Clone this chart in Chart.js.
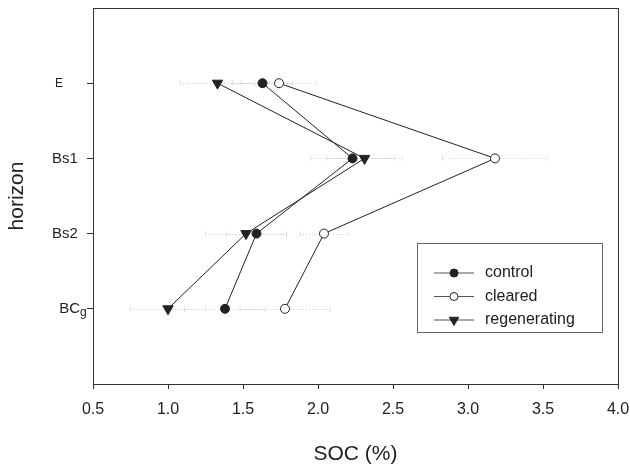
<!DOCTYPE html>
<html>
<head>
<meta charset="utf-8">
<script src="https://cdn.jsdelivr.net/npm/chart.js@4.4.0/dist/chart.umd.min.js"></script>
<style>
  html, body { margin: 0; padding: 0; background: #fff; }
  #wrap { width: 630px; height: 468px; position: relative; }
</style>
</head>
<body>
<div id="wrap"><canvas id="chart"></canvas></div>
<script>
// horizons, top to bottom
const horizons = ["E", "Bs1", "Bs2", "BCg"];
// SOC (%) per horizon
const control      = [1.63, 2.23, 1.59, 1.38];
const cleared      = [1.74, 3.18, 2.04, 1.78];
const regenerating = [1.33, 2.31, 1.52, 1.00];
// horizontal error bars (+/-)
const controlErr      = [0.20, 0.28, 0.20, 0.27];
const clearedErr      = [0.25, 0.35, 0.16, 0.30];
const regeneratingErr = [0.25, 0.25, 0.27, 0.25];
const xTicks = [0.5, 1.0, 1.5, 2.0, 2.5, 3.0, 3.5, 4.0];

const FONT = "'Liberation Sans', Arial, sans-serif";
const INK = "#222";
const pts = vals => vals.map((v, i) => ({ x: v, y: i + 1 }));

const series = [
  { label: "control", vals: control, err: controlErr, style: "circle", r: 4.5, bg: INK, rot: 0 },
  { label: "cleared", vals: cleared, err: clearedErr, style: "circle", r: 4.5, bg: "#fff", rot: 0 },
  { label: "regenerating", vals: regenerating, err: regeneratingErr, style: "triangle", r: 6, bg: INK, rot: 180 }
];

// faint dotted horizontal error bars behind the markers
const errorBars = {
  id: "errorBars",
  beforeDatasetsDraw(c) {
    const { ctx, scales: { x, y } } = c;
    ctx.save();
    ctx.strokeStyle = "#cfcfcf"; ctx.lineWidth = 1;
    series.forEach(s => s.vals.forEach((v, i) => {
      const py = Math.round(y.getPixelForValue(i + 1)) + 0.5;
      const x0 = x.getPixelForValue(v - s.err[i]), x1 = x.getPixelForValue(v + s.err[i]);
      ctx.setLineDash([1, 2]);
      ctx.beginPath(); ctx.moveTo(x0, py); ctx.lineTo(x1, py); ctx.stroke();
      ctx.setLineDash([1, 1]);
      ctx.beginPath();
      ctx.moveTo(x0, py - 3); ctx.lineTo(x0, py + 3);
      ctx.moveTo(x1, py - 3); ctx.lineTo(x1, py + 3);
      ctx.stroke();
    }));
    ctx.restore();
  }
};

// frame, y labels (with subscript) and the boxed legend
const extras = {
  id: "extras",
  afterDraw(c) {
    const { ctx, chartArea: a, scales: { y } } = c;
    ctx.save();
    ctx.strokeStyle = "#333"; ctx.lineWidth = 1;
    ctx.strokeRect(Math.round(a.left) + 0.5, Math.round(a.top) + 0.5,
                   Math.round(a.right - a.left), Math.round(a.bottom - a.top));

    ctx.fillStyle = INK; ctx.textBaseline = "middle";
    horizons.forEach((h, i) => {
      const py = y.getPixelForValue(i + 1);
      if (h === "E") {
        ctx.font = "12px " + FONT; ctx.textAlign = "center"; ctx.fillText(h, 59, py);
      } else if (h === "BCg") {
        ctx.font = "15px " + FONT; ctx.textAlign = "right"; ctx.fillText("BC", 80, py);
        ctx.font = "12px " + FONT; ctx.textAlign = "left"; ctx.fillText("g", 80, py + 4);
      } else {
        ctx.font = "15px " + FONT; ctx.textAlign = "center"; ctx.fillText(h, 65, py);
      }
    });

    const bx = a.right - 201, by = a.bottom - 141, bw = 185, bh = 89;
    ctx.strokeStyle = "#666";
    ctx.strokeRect(Math.round(bx) + 0.5, Math.round(by) + 0.5, bw, bh);
    ctx.font = "16px " + FONT; ctx.textAlign = "left";
    series.forEach((s, i) => {
      const ly = by + 30 + i * 23.5;
      ctx.strokeStyle = "#555"; ctx.lineWidth = 1;
      ctx.beginPath(); ctx.moveTo(bx + 17, ly); ctx.lineTo(bx + 57, ly); ctx.stroke();
      ctx.strokeStyle = INK; ctx.fillStyle = s.bg;
      Chart.helpers.drawPoint(ctx, { pointStyle: s.style, radius: s.style === "circle" ? 4 : 5.5, rotation: s.rot, borderWidth: 1 }, bx + 37, ly);
      ctx.fillStyle = INK;
      ctx.fillText(s.label, bx + 68, ly);
    });
    ctx.restore();
  }
};

new Chart(document.getElementById("chart"), {
  type: "line",
  data: {
    datasets: series.map(s => ({
      label: s.label,
      data: pts(s.vals),
      borderColor: INK,
      borderWidth: 1,
      backgroundColor: s.bg,
      pointStyle: s.style,
      pointRadius: s.r,
      pointRotation: s.rot,
      pointBackgroundColor: s.bg,
      pointBorderColor: INK,
      pointBorderWidth: 1,
      tension: 0,
      fill: false
    }))
  },
  options: {
    animation: false,
    responsive: true,
    maintainAspectRatio: false,
    layout: { padding: { top: 8, right: 12, left: 0, bottom: 0 } },
    plugins: { legend: { display: false }, tooltip: { enabled: false } },
    scales: {
      x: {
        type: "linear", min: 0.5, max: 4.0,
        afterBuildTicks: s => { s.ticks = xTicks.map(v => ({ value: v })); },
        afterFit: s => { s.height = 84; s.paddingLeft = 0; s.paddingRight = 0; },
        ticks: { font: { family: FONT, size: 16 }, color: INK, padding: 11, callback: v => v.toFixed(1), maxRotation: 0 },
        grid: { drawOnChartArea: false, drawTicks: true, tickLength: 5, color: "#333" },
        border: { display: true, color: "#333" },
        title: { display: true, text: "SOC (%)", color: INK, font: { family: FONT, size: 21 }, padding: { top: 0, bottom: 1 } }
      },
      y: {
        type: "linear", min: 0, max: 5, reverse: true,
        afterBuildTicks: s => { s.ticks = horizons.map((h, i) => ({ value: i + 1 })); },
        afterFit: s => { s.width = 93; s.paddingTop = 0; s.paddingBottom = 0; },
        ticks: { display: false },
        grid: { drawOnChartArea: false, drawTicks: true, tickLength: 6, color: "#333" },
        border: { display: true, color: "#333" },
        title: { display: true, text: "horizon", color: INK, font: { family: FONT, size: 21 }, padding: { top: 5, bottom: 0 } }
      }
    }
  },
  plugins: [errorBars, extras]
});
</script>
</body>
</html>
